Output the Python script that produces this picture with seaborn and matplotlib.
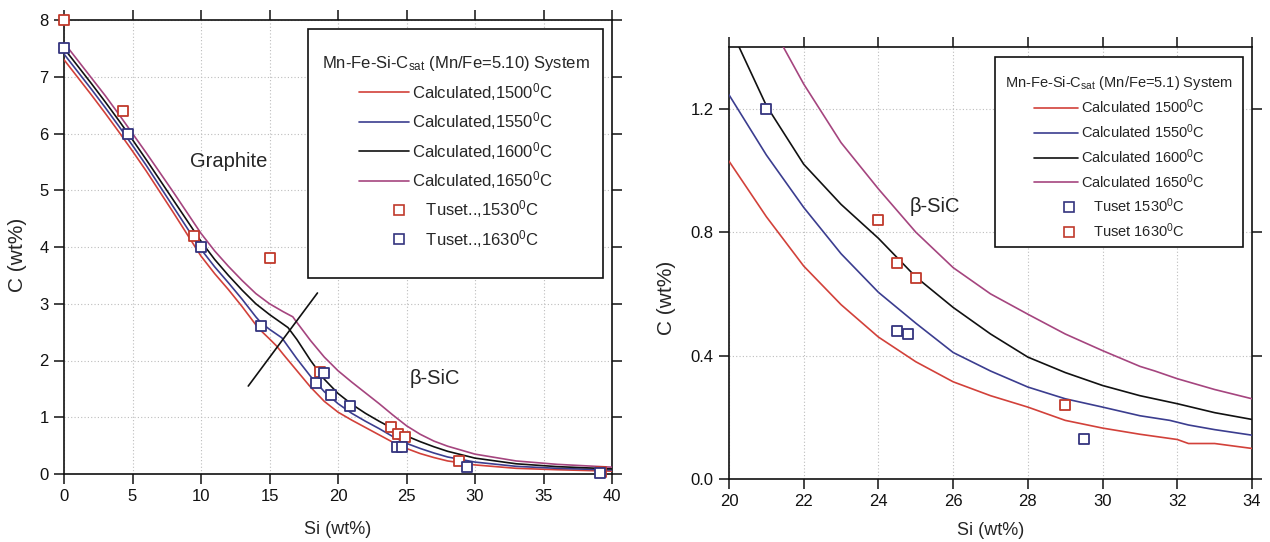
import matplotlib
matplotlib.use("Agg")
import matplotlib.pyplot as plt
from matplotlib.lines import Line2D
from matplotlib.patches import Rectangle
from matplotlib.legend_handler import HandlerLine2D
import seaborn as sns

# ---------------- data: full range (left panel) ----------------
si_l_1500 = [0, 1, 2, 3, 4, 5, 6, 7, 8, 9, 10, 11, 12, 13, 14, 14.4, 15, 15.5,
             16, 17, 18, 19, 20, 21, 22, 23, 24, 25, 26, 27, 28, 30, 33, 36, 40]
c_l_1500 = [7.30, 6.99, 6.68, 6.36, 6.03, 5.69, 5.34, 4.97, 4.60, 4.22, 3.84, 3.53, 3.25, 2.95, 2.63, 2.52, 2.38, 2.26,
            2.11, 1.82, 1.53, 1.28, 1.09, 0.95, 0.82, 0.69, 0.56, 0.45, 0.36, 0.29, 0.23, 0.16, 0.10, 0.075, 0.05]

si_l_1550 = [0, 1, 2, 3, 4, 5, 6, 7, 8, 9, 10, 11, 12, 13, 14, 14.4, 15, 15.9,
             17, 18, 19, 20, 21, 22, 23, 24, 25, 26, 27, 28, 30, 33, 36, 40]
c_l_1550 = [7.40, 7.09, 6.78, 6.46, 6.13, 5.79, 5.44, 5.07, 4.70, 4.33, 3.96, 3.65, 3.37, 3.08, 2.77, 2.66, 2.55, 2.40,
            2.03, 1.72, 1.45, 1.24, 1.07, 0.93, 0.80, 0.66, 0.54, 0.45, 0.37, 0.30, 0.21, 0.135, 0.10, 0.07]

si_l_1600 = [0, 1, 2, 3, 4, 5, 6, 7, 8, 9, 10, 11, 12, 13, 14, 15, 16, 16.35,
             17, 18, 19, 20, 21, 22, 23, 24, 25, 26, 27, 28, 30, 33, 36, 40]
c_l_1600 = [7.50, 7.19, 6.88, 6.56, 6.23, 5.89, 5.54, 5.18, 4.82, 4.46, 4.10, 3.78, 3.50, 3.24, 3.00, 2.81, 2.64, 2.58,
            2.37, 2.00, 1.67, 1.42, 1.23, 1.07, 0.93, 0.80, 0.67, 0.57, 0.48, 0.40, 0.28, 0.18, 0.13, 0.09]

si_l_1650 = [0, 1, 2, 3, 4, 5, 6, 7, 8, 9, 10, 11, 12, 13, 14, 15, 16, 16.7,
             17, 18, 19, 20, 21, 22, 23, 24, 25, 26, 27, 28, 30, 33, 36, 40]
c_l_1650 = [7.60, 7.29, 6.98, 6.67, 6.34, 6.00, 5.66, 5.31, 4.96, 4.60, 4.24, 3.93, 3.66, 3.41, 3.18, 3.00, 2.86, 2.77,
            2.67, 2.35, 2.06, 1.82, 1.62, 1.43, 1.24, 1.04, 0.85, 0.70, 0.58, 0.49, 0.35, 0.23, 0.17, 0.12]

tuset_1530_si_l = [0, 4.3, 9.5, 15.0, 18.7, 23.9, 24.4, 24.9, 28.8, 39.2]
tuset_1530_c_l = [8.0, 6.4, 4.2, 3.8, 1.8, 0.83, 0.70, 0.65, 0.23, 0.04]
tuset_1630_si_l = [0, 4.65, 10.0, 14.4, 18.4, 19.0, 19.5, 20.9, 24.3, 24.7, 29.4, 39.1]
tuset_1630_c_l = [7.5, 6.0, 4.0, 2.6, 1.6, 1.78, 1.39, 1.2, 0.48, 0.47, 0.13, 0.02]

boundary_si = [13.45, 18.5]
boundary_c = [1.55, 3.19]

# ---------------- data: beta-SiC region (right panel) ----------------
si_r_1500 = [20, 21, 22, 23, 24, 25, 26, 27, 28, 29, 30, 31, 32, 32.3, 33, 34]
c_r_1500 = [1.03, 0.85, 0.69, 0.565, 0.46, 0.38, 0.315, 0.27, 0.233, 0.19, 0.165, 0.145, 0.128, 0.115, 0.115, 0.099]

si_r_1550 = [20, 21, 22, 23, 24, 25, 26, 27, 28, 29, 30, 31, 31.8, 32.3, 33, 34]
c_r_1550 = [1.245, 1.05, 0.88, 0.73, 0.605, 0.505, 0.41, 0.35, 0.298, 0.26, 0.233, 0.205, 0.19, 0.175, 0.16, 0.142]

si_r_1600 = [20, 21, 22, 23, 24, 25, 26, 27, 28, 29, 30, 31, 32, 33, 34]
c_r_1600 = [1.47, 1.21, 1.02, 0.89, 0.78, 0.655, 0.556, 0.47, 0.395, 0.345, 0.303, 0.27, 0.244, 0.215, 0.193]

si_r_1650 = [21, 22, 23, 24, 25, 26, 27, 28, 29, 30, 31, 31.4, 32, 33, 34]
c_r_1650 = [1.50, 1.28, 1.09, 0.94, 0.80, 0.685, 0.60, 0.534, 0.47, 0.416, 0.365, 0.35, 0.325, 0.29, 0.26]

tuset_1530_si_r = [21.0, 24.5, 24.8, 29.5]
tuset_1530_c_r = [1.2, 0.48, 0.47, 0.13]
tuset_1630_si_r = [24.0, 24.5, 25.0, 29.0]
tuset_1630_c_r = [0.84, 0.70, 0.65, 0.24]

temps = ["1500", "1550", "1600", "1650"]

# ---------------- style ----------------
sns.set_style("ticks")
plt.rcParams["font.family"] = ["Liberation Sans", "DejaVu Sans"]
plt.rcParams["mathtext.fontset"] = "custom"
plt.rcParams["mathtext.rm"] = "Liberation Sans"
plt.rcParams["mathtext.it"] = "Liberation Sans:italic"

RED = "#d2413a"
BLUE = "#3b3d8f"
BLACK = "#111111"
PURPLE = "#a5457f"
MK_RED = "#c0392b"
MK_BLUE = "#34347e"
curve_colors = [RED, BLUE, BLACK, PURPLE]


class ShiftedMarker(HandlerLine2D):
    """Legend handler that puts the single marker towards the right of the handle box."""

    def get_xdata(self, legend, xdescent, ydescent, width, height, fontsize):
        # the handler marks the midpoint of this span
        xdata = [-xdescent + 0.6 * width, -xdescent + 1.0 * width]
        return xdata, [-xdescent + 0.8 * width]


def style_axes(ax):
    for s in ax.spines.values():
        s.set_visible(True)
        s.set_linewidth(1.2)
        s.set_color("#111111")
    ax.tick_params(axis="both", which="major", direction="out", length=7, width=1.1,
                   labelsize=12, top=True, right=True, labeltop=False, labelright=False,
                   colors="#111111", pad=4)
    ax.grid(True, linestyle=(0, (1, 2)), color="#bdbdbd", linewidth=0.8)
    ax.set_axisbelow(True)


def draw_legend(ax, box, shift, title, labels, marker_labels, marker_colors, fs, tfs, spacing):
    x0, y0, x1, y1 = box
    ax.add_patch(Rectangle((x0, y0), x1 - x0, y1 - y0, transform=ax.transAxes,
                           facecolor="white", edgecolor="#111111", linewidth=1.2, zorder=5))
    handles = [Line2D([], [], color=c, lw=1.2) for c in curve_colors]
    mk_handles = [Line2D([], [], ls="none", marker="s", markersize=6.5, markerfacecolor="white",
                         markeredgecolor=mc, markeredgewidth=1.2) for mc in marker_colors]
    hmap = {h: ShiftedMarker(numpoints=1) for h in mk_handles}
    leg = ax.legend(handles + mk_handles, labels + marker_labels, title=title, loc="center",
                    bbox_to_anchor=(x0, y0 - shift, x1 - x0, y1 - y0), bbox_transform=ax.transAxes,
                    frameon=False, fontsize=fs, title_fontsize=tfs, handlelength=3.0,
                    handletextpad=0.2, labelspacing=spacing, borderpad=0.2, handler_map=hmap)
    leg.set_zorder(6)
    return leg


fig = plt.figure(figsize=(12.7, 5.42), dpi=100)

# ---------------- left panel ----------------
axl = fig.add_axes([64 / 1270, 1 - 474 / 542, 548 / 1270, 454 / 542])
left_curves = [(si_l_1500, c_l_1500), (si_l_1550, c_l_1550), (si_l_1600, c_l_1600), (si_l_1650, c_l_1650)]
for (xs, ys), col in zip(left_curves, curve_colors):
    sns.lineplot(x=xs, y=ys, sort=False, color=col, linewidth=1.2, ax=axl, zorder=3)
axl.plot(boundary_si, boundary_c, color=BLACK, linewidth=1.2, zorder=3)
sns.scatterplot(x=tuset_1530_si_l, y=tuset_1530_c_l, marker="s", s=55, color="white",
                edgecolor=MK_RED, linewidth=1.3, ax=axl, zorder=4, clip_on=False)
sns.scatterplot(x=tuset_1630_si_l, y=tuset_1630_c_l, marker="s", s=55, color="white",
                edgecolor=MK_BLUE, linewidth=1.3, ax=axl, zorder=4, clip_on=False)
axl.set_xlim(0, 40)
axl.set_ylim(0, 8)
axl.set_xticks(range(0, 41, 5))
axl.set_yticks(range(0, 9))
style_axes(axl)
axl.set_xlabel("Si (wt%)", fontsize=13, labelpad=12)
axl.set_ylabel("C (wt%)", fontsize=15)
axl.yaxis.set_label_coords(-0.068, 0.482)
axl.text(12, 5.5, "Graphite", fontsize=14.5, ha="center", va="center")
axl.text(27.1, 1.69, "\u03b2-SiC", fontsize=14.5, ha="center", va="center")
draw_legend(axl, (0.445, 0.432, 0.984, 0.98), -0.003,
            r"Mn-Fe-Si-C$_{\mathrm{sat}}$ (Mn/Fe=5.10) System",
            [r"Calculated,%s$^{\mathrm{0}}$C" % t for t in temps],
            [r"   Tuset..,1530$^{\mathrm{0}}$C", r"   Tuset..,1630$^{\mathrm{0}}$C"],
            [MK_RED, MK_BLUE], 12, 12, 0.45)

# ---------------- right panel ----------------
axr = fig.add_axes([729 / 1270, 1 - 479 / 542, 523 / 1270, 432 / 542])
right_curves = [(si_r_1500, c_r_1500), (si_r_1550, c_r_1550), (si_r_1600, c_r_1600), (si_r_1650, c_r_1650)]
for (xs, ys), col in zip(right_curves, curve_colors):
    sns.lineplot(x=xs, y=ys, sort=False, color=col, linewidth=1.2, ax=axr, zorder=3)
sns.scatterplot(x=tuset_1530_si_r, y=tuset_1530_c_r, marker="s", s=55, color="white",
                edgecolor=MK_BLUE, linewidth=1.3, ax=axr, zorder=4)
sns.scatterplot(x=tuset_1630_si_r, y=tuset_1630_c_r, marker="s", s=55, color="white",
                edgecolor=MK_RED, linewidth=1.3, ax=axr, zorder=4)
axr.set_xlim(20, 34)
axr.set_ylim(0, 1.4)
axr.set_xticks(range(20, 35, 2))
axr.set_yticks([0.0, 0.4, 0.8, 1.2])
axr.set_yticklabels(["0.0", "0.4", "0.8", "1.2"])
style_axes(axr)
axr.set_xlabel("Si (wt%)", fontsize=13, labelpad=9)
axr.set_ylabel("C (wt%)", fontsize=15)
axr.yaxis.set_label_coords(-0.102, 0.42)
axr.text(25.5, 0.884, "\u03b2-SiC", fontsize=14.5, ha="center", va="center")
draw_legend(axr, (0.509, 0.538, 0.983, 0.9775), 0.012,
            r"Mn-Fe-Si-C$_{\mathrm{sat}}$ (Mn/Fe=5.1) System",
            [r"Calculated %s$^{\mathrm{0}}$C" % t for t in temps],
            [r"   Tuset 1530$^{\mathrm{0}}$C", r"   Tuset 1630$^{\mathrm{0}}$C"],
            [MK_BLUE, MK_RED], 10.5, 10.5, 0.42)

fig.savefig("out.png", dpi=100)
